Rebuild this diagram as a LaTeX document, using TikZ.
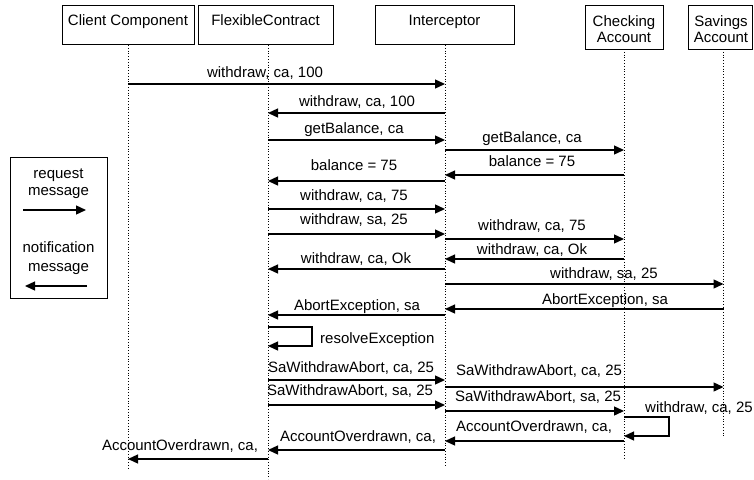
\documentclass[tikz,border=0pt]{standalone}
\usepackage{fontspec}
\setmainfont{Liberation Sans}
\usetikzlibrary{arrows.meta}
\begin{document}
\begin{tikzpicture}[x=1pt,y=-1pt,
  box/.style={draw=black,line width=0.9pt,inner sep=0pt,anchor=north west},
  txt/.style={anchor=base,inner sep=0pt,font=\fontsize{15}{17}\selectfont},
  msg/.style={line width=1.3pt,-{Triangle[length=10pt,width=9pt]}},
  life/.style={line width=0.8pt,dotted},
  legendbox/.style={draw=black,line width=1pt,inner sep=0pt,anchor=north west}]
\useasboundingbox (0,0) rectangle (754,479);
% object boxes
\node[box,minimum width=132pt,minimum height=39pt] (cc) at (62,5) {};
\node[box,minimum width=135pt,minimum height=39pt] (fc) at (198,5) {};
\node[box,minimum width=139pt,minimum height=39pt] (ic) at (375,5) {};
\node[box,minimum width=78pt,minimum height=44pt] (ca) at (585,5) {};
\node[box,minimum width=64pt,minimum height=44pt] (sa) at (688,5) {};
\node[txt] (tcc) at (128,25) {Client Component};
\node[txt] (tfc) at (265.5,25) {FlexibleContract};
\node[txt] (tic) at (444.5,25) {Interceptor};
\node[txt] (tca1) at (624,27) {Checking};
\node[txt] (tca2) at (624,42.5) {Account};
\node[txt] (tsa1) at (721,27) {Savings};
\node[txt] (tsa2) at (721,42.5) {Account};
% lifeline tops and bottoms
\coordinate (L1) at (128,45);
\coordinate (L2) at (268,45);
\coordinate (L3) at (445,45);
\coordinate (L4) at (624,49);
\coordinate (L5) at (723.5,49);
\coordinate (B1) at (128,469);
\coordinate (B2) at (268,479);
\coordinate (B3) at (445,467);
\coordinate (B4) at (624,460);
\coordinate (B5) at (723.5,438);
% messages
\draw[msg] (L1 |- 0,84) -- (L3 |- 0,84);
\node[txt] (m1) at (265,77) {withdraw, ca, 100};
\draw[msg] (L3 |- 0,113) -- (L2 |- 0,113);
\node[txt] (m2) at (357,106) {withdraw, ca, 100};
\draw[msg] (L2 |- 0,140) -- (L3 |- 0,140);
\node[txt] (m3) at (354,133) {getBalance, ca};
\draw[msg] (L3 |- 0,150) -- (L4 |- 0,150);
\node[txt] (m4) at (532,142) {getBalance, ca};
\draw[msg] (L4 |- 0,175) -- (L3 |- 0,175);
\node[txt] (m5) at (532,166) {balance = 75};
\draw[msg] (L3 |- 0,181) -- (L2 |- 0,181);
\node[txt] (m6) at (354,170) {balance = 75};
\draw[msg] (L2 |- 0,209) -- (L3 |- 0,209);
\node[txt] (m7) at (354,200) {withdraw, ca, 75};
\draw[msg] (L2 |- 0,234) -- (L3 |- 0,234);
\node[txt] (m8) at (354,224) {withdraw, sa, 25};
\draw[msg] (L3 |- 0,239) -- (L4 |- 0,239);
\node[txt] (m9) at (532,230) {withdraw, ca, 75};
\draw[msg] (L4 |- 0,259) -- (L3 |- 0,259);
\node[txt] (m10) at (532,254) {withdraw, ca, Ok};
\draw[msg] (L3 |- 0,269) -- (L2 |- 0,269);
\node[txt] (m11) at (356,263) {withdraw, ca, Ok};
\draw[msg] (L3 |- 0,284) -- (L5 |- 0,284);
\node[txt] (m12) at (604,278) {withdraw, sa, 25};
\draw[msg] (L5 |- 0,309) -- (L3 |- 0,309);
\node[txt] (m13) at (605,304) {AbortException, sa};
\draw[msg] (L3 |- 0,315) -- (L2 |- 0,315);
\node[txt] (m14) at (357,310) {AbortException, sa};
\draw[msg] (L2 |- 0,327) -| (312,346) -- (L2 |- 0,346);
\node[txt,anchor=base west] (m15) at (320,343) {resolveException};
\draw[msg] (L2 |- 0,380) -- (L3 |- 0,380);
\node[txt] (m16) at (351,372) {SaWithdrawAbort, ca, 25};
\draw[msg] (L3 |- 0,387) -- (L5 |- 0,387);
\node[txt] (m17) at (539,375) {SaWithdrawAbort, ca, 25};
\draw[msg] (L2 |- 0,405) -- (L3 |- 0,405);
\node[txt] (m18) at (350,395) {SaWithdrawAbort, sa, 25};
\draw[msg] (L3 |- 0,411) -- (L4 |- 0,411);
\node[txt] (m19) at (538,401) {SaWithdrawAbort, sa, 25};
\draw[msg] (L4 |- 0,417) -| (669,436) -- (L4 |- 0,436);
\node[txt] (m20) at (699,412) {withdraw, ca, 25};
\draw[msg] (L4 |- 0,441) -- (L3 |- 0,441);
\node[txt] (m21) at (534,431) {AccountOverdrawn, ca,};
\draw[msg] (L3 |- 0,450) -- (L2 |- 0,450);
\node[txt] (m22) at (358,441) {AccountOverdrawn, ca,};
\draw[msg] (L2 |- 0,459) -- (L1 |- 0,459);
\node[txt] (m23) at (180,450) {AccountOverdrawn, ca,};
% lifelines
\draw[life] (L1) -- (B1);
\draw[life] (L2) -- (B2);
\draw[life] (L3) -- (B3);
\draw[life] (L4) -- (B4);
\draw[life] (L5) -- (B5);
% legend
\node[legendbox,minimum width=97pt,minimum height=141pt] (leg) at (10,157) {};
\node[txt] (lg1) at (58.5,178) {request};
\node[txt] (lg2) at (58.5,195) {message};
\coordinate (la1) at (23,210);
\coordinate (la2) at (86,210);
\draw[msg] (la1) -- (la2);
\node[txt] (lg3) at (58.5,252) {notification};
\node[txt] (lg4) at (58.5,271) {message};
\coordinate (lb1) at (87,286);
\coordinate (lb2) at (25,286);
\draw[msg] (lb1) -- (lb2);
\end{tikzpicture}
\end{document}
